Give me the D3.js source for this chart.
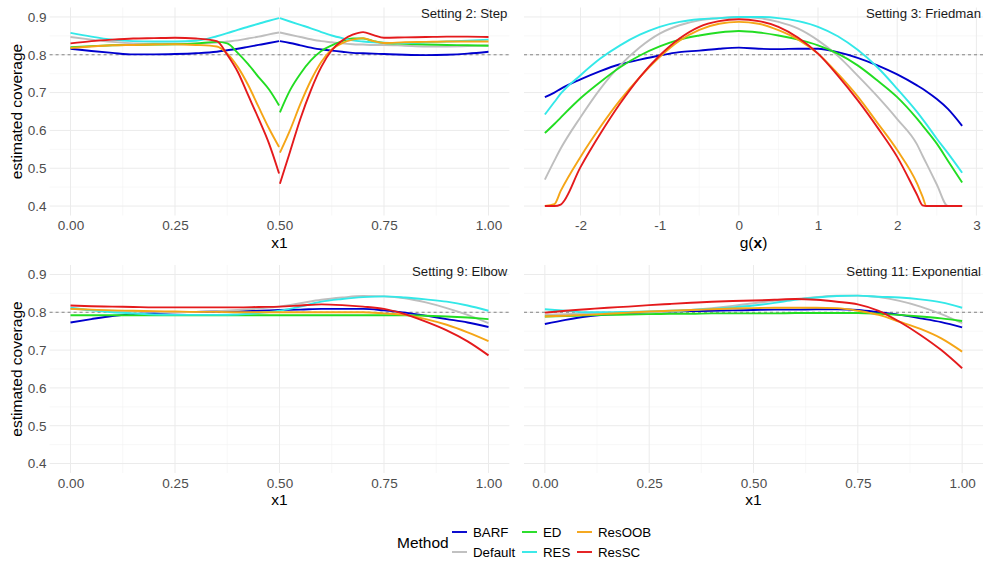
<!DOCTYPE html>
<html>
<head>
<meta charset="utf-8">
<script src="https://cdn.jsdelivr.net/npm/d3@7"></script>
<style>
  body { margin: 0; background: #fff; }
  text { font-family: "Liberation Sans", Arial, sans-serif; }
</style>
</head>
<body>
<svg id="chart" width="984" height="561"></svg>
<script>
// methods and colours (legend order)
var methods = ['BARF', 'Default', 'ED', 'RES', 'ResOOB', 'ResSC'];
var colors = ['#0000CD', '#BEBEBE', '#22DD22', '#33E8E8', '#F5A516', '#E41A1C'];
var yTicks = [0.4, 0.5, 0.6, 0.7, 0.8, 0.9];
var unitTicks = [0, 0.25, 0.5, 0.75, 1];
var friedTicks = [-2, -1, 0, 1, 2, 3];
var targetCoverage = 0.8;

// Setting 2: Step (null = break at the step)
var stepX = [0, 0.05, 0.1, 0.15, 0.2, 0.25, 0.3, 0.35, 0.375, 0.4, 0.425, 0.45, 0.475, 0.499, null,
  0.501, 0.525, 0.55, 0.575, 0.6, 0.625, 0.65, 0.675, 0.7, 0.725, 0.75, 0.8, 0.85, 0.9, 0.95, 1.0];
var stepBARF = [0.816, 0.810, 0.805, 0.801, 0.801, 0.802, 0.804, 0.808, 0.812, 0.816, 0.821, 0.826, 0.831, 0.836, null,
  0.836, 0.831, 0.825, 0.819, 0.814, 0.811, 0.808, 0.805, 0.804, 0.803, 0.802, 0.800, 0.799, 0.800, 0.803, 0.808];
var stepDefault = [0.847, 0.840, 0.834, 0.830, 0.829, 0.829, 0.829, 0.832, 0.835, 0.838, 0.843, 0.848, 0.854, 0.859, null,
  0.859, 0.853, 0.847, 0.841, 0.836, 0.833, 0.830, 0.828, 0.827, 0.826, 0.826, 0.824, 0.822, 0.822, 0.823, 0.825];
var stepED = [0.820, 0.823, 0.825, 0.826, 0.827, 0.828, 0.830, 0.834, 0.830, 0.805, 0.775, 0.741, 0.708, 0.666, null,
  0.648, 0.706, 0.750, 0.785, 0.810, 0.825, 0.836, 0.843, 0.843, 0.836, 0.831, 0.829, 0.827, 0.826, 0.825, 0.824];
var stepRES = [0.858, 0.848, 0.840, 0.836, 0.835, 0.835, 0.837, 0.849, 0.857, 0.866, 0.874, 0.882, 0.890, 0.897, null,
  0.897, 0.888, 0.879, 0.870, 0.860, 0.851, 0.844, 0.838, 0.835, 0.833, 0.832, 0.831, 0.833, 0.835, 0.837, 0.840];
var stepResOOB = [0.818, 0.822, 0.825, 0.826, 0.827, 0.828, 0.826, 0.822, 0.803, 0.768, 0.720, 0.662, 0.605, 0.556, null,
  0.541, 0.600, 0.670, 0.732, 0.781, 0.814, 0.831, 0.840, 0.844, 0.836, 0.831, 0.833, 0.834, 0.835, 0.835, 0.835];
var stepResSC = [0.830, 0.836, 0.840, 0.843, 0.844, 0.845, 0.843, 0.836, 0.800, 0.755, 0.693, 0.631, 0.565, 0.486, null,
  0.459, 0.543, 0.631, 0.706, 0.768, 0.812, 0.838, 0.853, 0.860, 0.852, 0.845, 0.846, 0.847, 0.848, 0.848, 0.847];

// Setting 3: Friedman
var friedX = [-2.45, -2.33, -2.25, -2, -1.75, -1.5, -1.25, -1, -0.75, -0.5, -0.25, 0, 0.25, 0.5, 0.75, 1,
  1.25, 1.5, 1.75, 2, 2.25, 2.32, 2.37, 2.5, 2.64, 2.82];
var friedBARF = [0.688, 0.700, 0.710, 0.735, 0.757, 0.775, 0.787, 0.798, 0.807, 0.811, 0.816, 0.819, 0.816, 0.815, 0.816, 0.816,
  0.807, 0.792, 0.772, 0.748, 0.719, 0.710, 0.703, 0.683, 0.657, 0.612];
var friedDefault = [0.470, 0.520, 0.552, 0.635, 0.710, 0.772, 0.820, 0.856, 0.878, 0.891, 0.897, 0.900, 0.897, 0.887, 0.869, 0.838,
  0.797, 0.745, 0.690, 0.630, 0.563, 0.533, 0.512, 0.457, 0.400, 0.400];
var friedED = [0.593, 0.617, 0.634, 0.685, 0.728, 0.767, 0.798, 0.822, 0.840, 0.851, 0.859, 0.863, 0.859, 0.851, 0.840, 0.825,
  0.803, 0.772, 0.732, 0.688, 0.631, 0.613, 0.600, 0.565, 0.520, 0.462];
var friedRES = [0.642, 0.675, 0.697, 0.746, 0.790, 0.825, 0.853, 0.874, 0.887, 0.894, 0.897, 0.900, 0.900, 0.897, 0.889, 0.874,
  0.849, 0.813, 0.767, 0.710, 0.649, 0.630, 0.616, 0.578, 0.540, 0.488];
var friedResOOB = [0.400, 0.405, 0.440, 0.530, 0.609, 0.680, 0.741, 0.794, 0.837, 0.866, 0.882, 0.887, 0.882, 0.865, 0.840, 0.803,
  0.750, 0.690, 0.620, 0.548, 0.460, 0.425, 0.400, 0.400, 0.400, 0.400];
var friedResSC = [0.400, 0.400, 0.404, 0.503, 0.591, 0.671, 0.741, 0.798, 0.843, 0.874, 0.889, 0.894, 0.889, 0.874, 0.845, 0.803,
  0.745, 0.680, 0.608, 0.530, 0.430, 0.402, 0.400, 0.400, 0.400, 0.400];

// Settings 9 and 11 share the x grid
var gridX = [0, 0.05, 0.1, 0.15, 0.2, 0.25, 0.3, 0.35, 0.4, 0.45, 0.5, 0.55, 0.6, 0.65, 0.7, 0.75, 0.8, 0.85, 0.9, 0.95, 1.0];

var elbowBARF = [0.773, 0.782, 0.790, 0.795, 0.798, 0.800, 0.801, 0.802, 0.803, 0.804, 0.806, 0.807, 0.809, 0.809, 0.809, 0.805, 0.799, 0.791, 0.782, 0.773, 0.761];
var elbowDefault = [0.809, 0.806, 0.804, 0.802, 0.801, 0.800, 0.801, 0.803, 0.806, 0.810, 0.815, 0.824, 0.833, 0.839, 0.843, 0.842, 0.837, 0.826, 0.811, 0.793, 0.771];
var elbowED = [0.792, 0.792, 0.792, 0.792, 0.792, 0.792, 0.792, 0.792, 0.792, 0.792, 0.792, 0.792, 0.792, 0.792, 0.792, 0.792, 0.792, 0.791, 0.789, 0.786, 0.782];
var elbowRES = [0.812, 0.805, 0.800, 0.797, 0.794, 0.793, 0.793, 0.793, 0.794, 0.798, 0.804, 0.815, 0.828, 0.835, 0.840, 0.842, 0.839, 0.834, 0.828, 0.818, 0.804];
var elbowResOOB = [0.809, 0.807, 0.805, 0.804, 0.803, 0.802, 0.801, 0.801, 0.800, 0.800, 0.800, 0.800, 0.800, 0.800, 0.800, 0.797, 0.793, 0.782, 0.767, 0.747, 0.724];
var elbowResSC = [0.818, 0.816, 0.815, 0.814, 0.813, 0.813, 0.813, 0.813, 0.813, 0.814, 0.815, 0.818, 0.821, 0.819, 0.815, 0.809, 0.795, 0.775, 0.752, 0.723, 0.686];

var expoBARF = [0.769, 0.780, 0.789, 0.794, 0.797, 0.800, 0.802, 0.803, 0.804, 0.805, 0.806, 0.807, 0.807, 0.808, 0.808, 0.806, 0.800, 0.793, 0.784, 0.774, 0.760];
var expoDefault = [0.793, 0.795, 0.797, 0.798, 0.799, 0.800, 0.802, 0.806, 0.811, 0.817, 0.824, 0.830, 0.835, 0.840, 0.844, 0.844, 0.840, 0.830, 0.815, 0.795, 0.771];
var expoED = [0.789, 0.790, 0.792, 0.793, 0.794, 0.795, 0.796, 0.796, 0.797, 0.797, 0.797, 0.797, 0.798, 0.798, 0.798, 0.798, 0.796, 0.793, 0.789, 0.784, 0.777];
var expoRES = [0.808, 0.804, 0.800, 0.800, 0.801, 0.802, 0.804, 0.806, 0.809, 0.813, 0.818, 0.825, 0.833, 0.839, 0.843, 0.844, 0.841, 0.839, 0.834, 0.826, 0.812];
var expoResOOB = [0.789, 0.791, 0.793, 0.796, 0.799, 0.802, 0.804, 0.806, 0.808, 0.810, 0.811, 0.812, 0.812, 0.812, 0.811, 0.804, 0.793, 0.775, 0.756, 0.731, 0.696];
var expoResSC = [0.799, 0.804, 0.808, 0.812, 0.815, 0.819, 0.822, 0.825, 0.828, 0.830, 0.831, 0.833, 0.835, 0.833, 0.828, 0.821, 0.804, 0.775, 0.740, 0.700, 0.652];

var panels = [
  {title: 'Setting 2: Step', xs: stepX, ys: [stepBARF, stepDefault, stepED, stepRES, stepResOOB, stepResSC],
   ticks: unitTicks, fmt: d3.format('.2f'), xTitle: 'x1', col: 0, row: 0},
  {title: 'Setting 3: Friedman', xs: friedX, ys: [friedBARF, friedDefault, friedED, friedRES, friedResOOB, friedResSC],
   ticks: friedTicks, fmt: d => String(d), xTitle: 'gx', col: 1, row: 0},
  {title: 'Setting 9: Elbow', xs: gridX, ys: [elbowBARF, elbowDefault, elbowED, elbowRES, elbowResOOB, elbowResSC],
   ticks: unitTicks, fmt: d3.format('.2f'), xTitle: 'x1', col: 0, row: 1},
  {title: 'Setting 11: Exponential', xs: gridX, ys: [expoBARF, expoDefault, expoED, expoRES, expoResOOB, expoResSC],
   ticks: unitTicks, fmt: d3.format('.2f'), xTitle: 'x1', col: 1, row: 1}
];

var colsPx = [[49.6, 509.4], [524, 983]];
var rowsPx = [[7.5, 215.5], [265, 473]];

var svg = d3.select('#chart');

panels.forEach(function(p) {
  var xr = colsPx[p.col], yr = rowsPx[p.row];
  var ext = d3.extent(p.xs.filter(v => v != null));
  var pad = (ext[1] - ext[0]) * 0.05;
  var xScale = d3.scaleLinear().domain([ext[0] - pad, ext[1] + pad]).range(xr);
  var yScale = d3.scaleLinear().domain([0.375, 0.925]).range([yr[1], yr[0]]);

  var g = svg.append('g');

  // minor grid
  var xMinor = [];
  for (var i = 0; i < p.ticks.length - 1; i++) xMinor.push((p.ticks[i] + p.ticks[i + 1]) / 2);
  var step = p.ticks[1] - p.ticks[0];
  xMinor.push(p.ticks[0] - step / 2, p.ticks[p.ticks.length - 1] + step / 2);
  xMinor = xMinor.filter(v => v > xScale.domain()[0] && v < xScale.domain()[1]);
  var yMinor = [0.45, 0.55, 0.65, 0.75, 0.85];

  g.selectAll('line.xminor').data(xMinor).enter().append('line')
    .attr('x1', d => xScale(d)).attr('x2', d => xScale(d))
    .attr('y1', yr[0]).attr('y2', yr[1])
    .style('stroke', '#f3f3f3').style('stroke-width', 0.6);
  g.selectAll('line.yminor').data(yMinor).enter().append('line')
    .attr('x1', xr[0]).attr('x2', xr[1])
    .attr('y1', d => yScale(d)).attr('y2', d => yScale(d))
    .style('stroke', '#f3f3f3').style('stroke-width', 0.6);

  // major grid
  var shownTicks = p.ticks.filter(v => v >= xScale.domain()[0] && v <= xScale.domain()[1]);
  g.selectAll('line.xmajor').data(shownTicks).enter().append('line')
    .attr('x1', d => xScale(d)).attr('x2', d => xScale(d))
    .attr('y1', yr[0]).attr('y2', yr[1])
    .style('stroke', '#ebebeb').style('stroke-width', 1);
  g.selectAll('line.ymajor').data(yTicks).enter().append('line')
    .attr('x1', xr[0]).attr('x2', xr[1])
    .attr('y1', d => yScale(d)).attr('y2', d => yScale(d))
    .style('stroke', '#ebebeb').style('stroke-width', 1);

  // target coverage reference
  g.append('line')
    .attr('x1', xr[0]).attr('x2', xr[1])
    .attr('y1', yScale(targetCoverage)).attr('y2', yScale(targetCoverage))
    .style('stroke', '#555').style('stroke-width', 0.7)
    .style('stroke-dasharray', '3,3');

  // lines
  var line = d3.line()
    .defined(d => d[0] != null && d[1] != null)
    .x(d => xScale(d[0])).y(d => yScale(d[1]))
    .curve(d3.curveMonotoneX);

  p.ys.forEach(function(ys, k) {
    g.append('path')
      .datum(p.xs.map((x, j) => [x, ys[j]]))
      .attr('d', line)
      .style('fill', 'none')
      .style('stroke', colors[k])
      .style('stroke-width', 1.9)
      .style('stroke-linejoin', 'round');
  });

  // axes
  var xAxis = g.append('g')
    .attr('transform', `translate(0, ${yr[1]})`)
    .call(d3.axisBottom(xScale).tickValues(shownTicks)
      .tickFormat(p.fmt).tickSize(0).tickPadding(5));
  xAxis.select('.domain').remove();
  xAxis.selectAll('text').style('font-size', '13.5px').style('fill', '#4d4d4d')
    .style('font-family', '"Liberation Sans", Arial, sans-serif');

  if (p.col === 0) {
    var yAxis = g.append('g')
      .attr('transform', `translate(${xr[0]}, 0)`)
      .call(d3.axisLeft(yScale).tickValues(yTicks).tickFormat(d3.format('.1f')).tickSize(0).tickPadding(3));
    yAxis.select('.domain').remove();
    yAxis.selectAll('text').style('font-size', '13.5px').style('fill', '#4d4d4d')
      .style('font-family', '"Liberation Sans", Arial, sans-serif');

    svg.append('text')
      .attr('transform', `translate(22, ${(yr[0] + yr[1]) / 2}) rotate(-90)`)
      .attr('text-anchor', 'middle')
      .style('font-size', '15.5px').style('fill', '#000')
      .text('estimated coverage');
  }

  // x axis title
  var xt = svg.append('text')
    .attr('x', (xr[0] + xr[1]) / 2).attr('y', yr[1] + 32)
    .attr('text-anchor', 'middle')
    .style('font-size', '15.5px').style('fill', '#000');
  if (p.xTitle === 'gx') {
    xt.append('tspan').text('g(');
    xt.append('tspan').style('font-weight', 'bold').text('x');
    xt.append('tspan').text(')');
  } else {
    xt.text(p.xTitle);
  }

  // panel title
  svg.append('text')
    .attr('x', xr[1] - 2).attr('y', yr[0] + 10.5)
    .attr('text-anchor', 'end')
    .style('font-size', '13.2px').style('fill', '#1a1a1a')
    .text(p.title);
});

// legend
var legend = svg.append('g');
legend.append('text')
  .attr('x', 397).attr('y', 548)
  .style('font-size', '15.5px').style('fill', '#000')
  .text('Method');

var keyX = [452, 522, 577];
var keyY = [532, 552];
methods.forEach(function(m, i) {
  var c = Math.floor(i / 2), r = i % 2;
  legend.append('line')
    .attr('x1', keyX[c]).attr('x2', keyX[c] + 15)
    .attr('y1', keyY[r]).attr('y2', keyY[r])
    .style('stroke', colors[i]).style('stroke-width', 1.9);
  legend.append('text')
    .attr('x', keyX[c] + 21).attr('y', keyY[r])
    .attr('dy', '0.35em')
    .style('font-size', '13.3px').style('fill', '#000')
    .text(m);
});
</script>
</body>
</html>
